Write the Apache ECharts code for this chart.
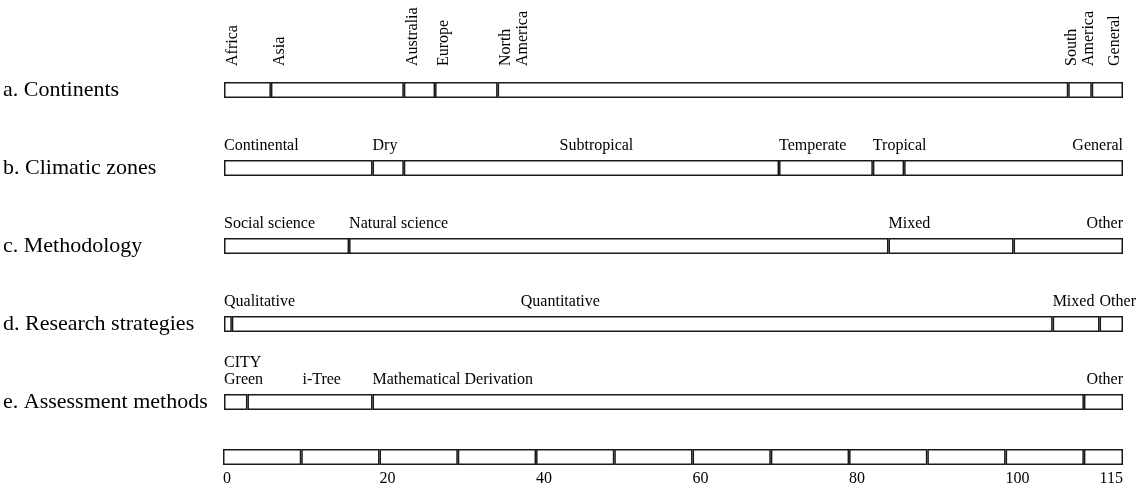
<!DOCTYPE html>
<html>
<head>
<meta charset="utf-8">
<script src="https://cdn.jsdelivr.net/npm/echarts@6/dist/echarts.min.js"></script>
<style>
  html, body { margin: 0; padding: 0; background: #fff; }
  #chart { width: 1143px; height: 492px; }
</style>
</head>
<body>
<div id="chart"></div>
<script>
const rowNames = ['a. Continents', 'b. Climatic zones', 'c. Methodology', 'd. Research strategies', 'e. Assessment methods'];

const continentNames = ['Africa', 'Asia', 'Australia', 'Europe', 'North\nAmerica', 'South\nAmerica', 'General'];
const continentValues = [6, 17, 4, 8, 73, 3, 4];

const climateNames = ['Continental', 'Dry', 'Subtropical', 'Temperate', 'Tropical', 'General'];
const climateValues = [19, 4, 48, 12, 4, 28];

const methodNames = ['Social science', 'Natural science', 'Mixed', 'Other'];
const methodValues = [16, 69, 16, 14];

const strategyNames = ['Qualitative', 'Quantitative', 'Mixed', 'Other'];
const strategyValues = [1, 105, 6, 3];

const assessNames = ['CITY\nGreen', 'i-Tree', 'Mathematical Derivation', 'Other'];
const assessValues = [3, 16, 91, 5];

// bottom scale bar, cut in steps of 10
const scaleSegments = [10, 10, 10, 10, 10, 10, 10, 10, 10, 10, 10, 5];

// where each label sits over its segment (layout only)
const labelPlaces = [
    ['start', 'start', 'start', 'start', 'start', 'center', 'end'],
    ['start', 'start', 'center', 'start', 'start', 'end'],
    ['start', 'start', 'start', 'end'],
    ['start', 289, 'start', 'start'],
    ['start', 55, 'start', 'end']
];

const rows = [
    { names: continentNames, values: continentValues, rotated: true },
    { names: climateNames, values: climateValues },
    { names: methodNames, values: methodValues },
    { names: strategyNames, values: strategyValues },
    { names: assessNames, values: assessValues }
];

const FONT = '"Liberation Serif", "Times New Roman", serif';
const barStyle = { color: '#fff', borderColor: '#1a1a1a', borderWidth: 1.5 };

function makeLabel(text, place, rotated) {
    const base = {
        show: true,
        formatter: text,
        fontFamily: FONT,
        fontSize: 16,
        lineHeight: 17,
        color: '#000'
    };
    if (rotated) {
        base.rotate = 90;
        base.align = 'left';
        if (place === 'center') {
            base.position = ['50%', -16];
            base.verticalAlign = 'middle';
        } else if (place === 'end') {
            base.position = ['100%', -16];
            base.verticalAlign = 'bottom';
        } else {
            base.position = [0, -16];
            base.verticalAlign = 'top';
        }
        return base;
    }
    base.verticalAlign = 'bottom';
    if (place === 'end') {
        base.position = ['100%', -6];
        base.align = 'right';
    } else if (place === 'center') {
        base.position = ['50%', -6];
        base.align = 'center';
        base.offset = [5, 0];
    } else if (typeof place === 'number') {
        base.position = [place, -6];
        base.align = 'left';
    } else {
        base.position = [0, -6];
        base.align = 'left';
    }
    return base;
}

const series = [];
const maxSeg = Math.max(...rows.map(r => r.values.length));
for (let k = 0; k < maxSeg; k++) {
    series.push({
        type: 'bar',
        stack: 'rows',
        xAxisIndex: 0,
        yAxisIndex: 0,
        barWidth: 16,
        itemStyle: barStyle,
        emphasis: { disabled: true },
        data: rows.map(function (r, i) {
            if (k >= r.values.length) return '-';
            return {
                value: r.values[k],
                label: makeLabel(r.names[k], labelPlaces[i][k], r.rotated)
            };
        })
    });
}
scaleSegments.forEach(function (v) {
    series.push({
        type: 'bar',
        stack: 'scale',
        xAxisIndex: 1,
        yAxisIndex: 1,
        barWidth: 16,
        itemStyle: barStyle,
        emphasis: { disabled: true },
        data: [v]
    });
});

const chart = echarts.init(document.getElementById('chart'), null, { renderer: 'canvas' });

chart.setOption({
    animation: false,
    backgroundColor: '#fff',
    grid: [
        { left: 223, right: 20, top: 51, height: 390 },
        { left: 223, right: 20, top: 449, height: 16 }
    ],
    xAxis: [
        { gridIndex: 0, type: 'value', min: 0, max: 115, show: false },
        {
            gridIndex: 1,
            type: 'value',
            min: 0,
            max: 115,
            interval: 20,
            axisLine: { show: false },
            axisTick: { show: false },
            splitLine: { show: false },
            axisLabel: {
                fontFamily: FONT,
                fontSize: 16,
                color: '#000',
                margin: 6,
                align: 'left',
                alignMaxLabel: 'right'
            }
        }
    ],
    yAxis: [
        {
            gridIndex: 0,
            type: 'category',
            inverse: true,
            data: rowNames,
            axisLine: { show: false },
            axisTick: { show: false },
            axisLabel: {
                fontFamily: FONT,
                fontSize: 22,
                color: '#000',
                align: 'left',
                margin: 221,
                padding: [4, 0, 0, 0]
            }
        },
        {
            gridIndex: 1,
            type: 'category',
            data: [''],
            axisLine: { show: false },
            axisTick: { show: false },
            axisLabel: { show: false }
        }
    ],
    series: series
});

window.addEventListener('resize', () => {
    chart.resize();
});
</script>
</body>
</html>
